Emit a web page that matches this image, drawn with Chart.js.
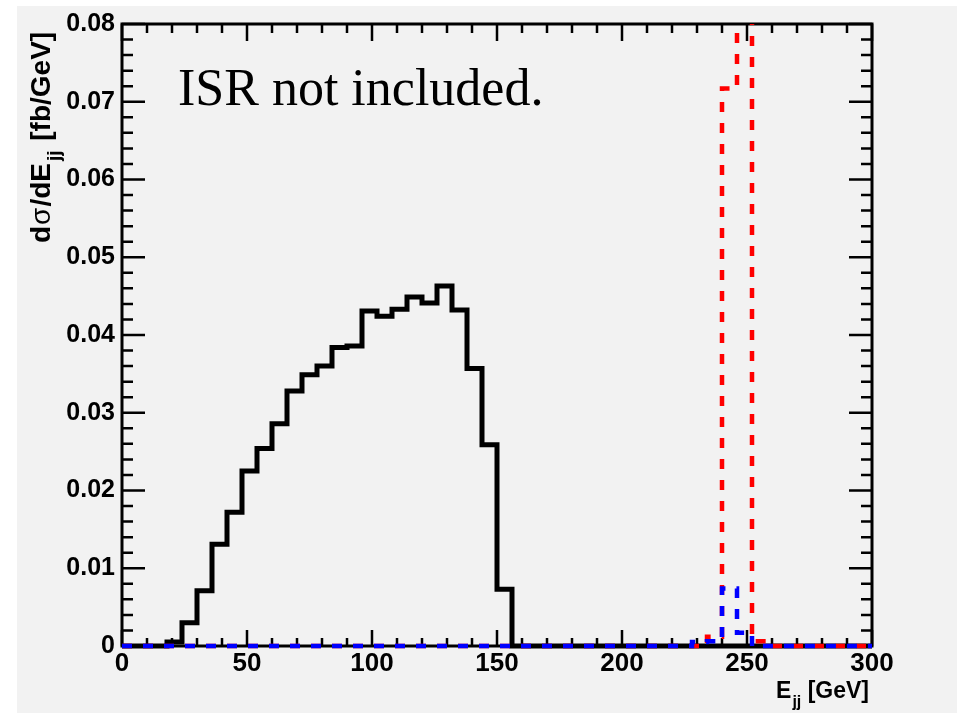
<!DOCTYPE html>
<html>
<head>
<meta charset="utf-8">
<script src="https://cdn.jsdelivr.net/npm/chart.js@4/dist/chart.umd.min.js"></script>
<style>
body { margin: 0; background: #fff; }
canvas { display: block; }
</style>
</head>
<body>
<canvas id="ejj" width="957" height="714"></canvas>
<script>
// lower edges of the 6 GeV bins, upper end of last bin
var binEdges = [0, 6, 12, 18, 24, 30, 36, 42, 48, 54, 60, 66, 72, 78, 84, 90, 96, 102, 108, 114,
                120, 126, 132, 138, 144, 150, 156, 162, 168, 174, 180, 186, 192, 198, 204, 210, 216, 222, 228, 234,
                240, 246, 252, 258, 264, 270, 276, 282, 288, 294];
var xEnd = 300;

// dsigma/dEjj [fb/GeV] per bin
var blackHist = [0, 0, 0, 0.0005, 0.0030, 0.0071, 0.0131, 0.0172, 0.0225, 0.0254,
                 0.0286, 0.0328, 0.0349, 0.0360, 0.0384, 0.0386, 0.0431, 0.0424, 0.0433, 0.0449,
                 0.0441, 0.0463, 0.0432, 0.0357, 0.0259, 0.0073, 0, 0, 0, 0,
                 0, 0, 0, 0, 0, 0, 0, 0, 0, 0,
                 0, 0, 0, 0, 0, 0, 0, 0, 0, 0];
var redHist = [0, 0, 0, 0, 0, 0, 0, 0, 0, 0,
               0, 0, 0, 0, 0, 0, 0, 0, 0, 0,
               0, 0, 0, 0, 0, 0, 0, 0, 0, 0,
               0, 0, 0, 0, 0, 0, 0, 0, 0, 0.0012,
               0.0717, 0.1, 0.0006, 0, 0, 0, 0, 0, 0, 0];
var blueHist = [0, 0, 0, 0, 0, 0, 0, 0, 0, 0,
                0, 0, 0, 0, 0, 0, 0, 0, 0, 0,
                0, 0, 0, 0, 0, 0, 0, 0, 0, 0,
                0, 0, 0, 0, 0, 0, 0, 0, 0.0005, 0.0006,
                0.0074, 0.0017, 0, 0, 0, 0, 0, 0, 0, 0];

var xTickLabels = ['0', '50', '100', '150', '200', '250', '300'];
var yTickLabels = ['0', '0.01', '0.02', '0.03', '0.04', '0.05', '0.06', '0.07', '0.08'];

function toSteps(values) {
  var pts = values.map(function (v, i) { return { x: binEdges[i], y: v }; });
  pts.push({ x: xEnd, y: values[values.length - 1] });
  return pts;
}

var boldFont = '"Liberation Sans", Arial, sans-serif';

var rootFrame = {
  id: 'rootFrame',
  beforeDraw: function (chart) {
    var ctx = chart.ctx;
    ctx.save();
    ctx.fillStyle = '#f2f2f2';
    ctx.fillRect(17, 6, 940, 707);
    ctx.restore();
  },
  beforeDatasetsDraw: function (chart) {
    var ctx = chart.ctx;
    var a = chart.chartArea;
    var xs = chart.scales.x, ys = chart.scales.y;
    ctx.save();
    ctx.strokeStyle = '#000';
    ctx.lineWidth = 2.5;
    ctx.beginPath();
    // x ticks, every 10 GeV, pointing inwards
    for (var v = 0; v <= 300; v += 10) {
      var px = xs.getPixelForValue(v);
      var len = (v % 50 === 0) ? 16 : 8;
      ctx.moveTo(px, a.bottom);
      ctx.lineTo(px, a.bottom - len);
      ctx.moveTo(px, a.top);
      ctx.lineTo(px, a.top + len + 1);
    }
    // y ticks, every 0.002
    for (var k = 0; k <= 40; k++) {
      var py = ys.getPixelForValue(k * 0.002);
      var l2 = (k % 5 === 0) ? 23 : 11;
      ctx.moveTo(a.left, py);
      ctx.lineTo(a.left + l2, py);
      ctx.moveTo(a.right, py);
      ctx.lineTo(a.right - l2, py);
    }
    ctx.stroke();
    ctx.lineWidth = 3;
    ctx.strokeRect(a.left, a.top, a.right - a.left, a.bottom - a.top);
    ctx.restore();
  },
  afterDraw: function (chart) {
    var ctx = chart.ctx;
    var a = chart.chartArea;
    ctx.save();
    ctx.fillStyle = '#000';
    ctx.textBaseline = 'alphabetic';

    // x title: E_jj [GeV], right aligned
    var f = 'bold 23px ' + boldFont;
    var fs = 'bold 16px ' + boldFont;
    ctx.font = f;
    var wE = ctx.measureText('E').width;
    var wRest = ctx.measureText(' [GeV]').width;
    ctx.font = fs;
    var wSub = ctx.measureText('jj').width;
    var x0 = a.right - 4 - wE - wSub - wRest;
    ctx.font = f;
    ctx.fillText('E', x0, 698);
    ctx.font = fs;
    ctx.fillText('jj', x0 + wE + 1, 707);
    ctx.font = f;
    ctx.fillText(' [GeV]', x0 + wE + wSub + 1, 698);

    // y title: dσ/dE_jj [fb/GeV], rotated
    ctx.save();
    ctx.translate(50, 243);
    ctx.rotate(-Math.PI / 2);
    var yf = 'bold 28px ' + boldFont;
    var sig = '28px ' + boldFont;
    var ysub = 'bold 19px ' + boldFont;
    var cx = 0;
    ctx.font = yf; ctx.fillText('d', cx, 0); cx += ctx.measureText('d').width + 1;
    ctx.font = sig; ctx.fillText('σ', cx, 0); cx += ctx.measureText('σ').width + 1;
    ctx.font = yf; ctx.fillText('/dE', cx, 0); cx += ctx.measureText('/dE').width + 2;
    ctx.font = ysub; ctx.fillText('jj', cx, 10); cx += ctx.measureText('jj').width + 2;
    ctx.font = yf; ctx.fillText(' [fb/GeV]', cx, 0);
    ctx.restore();

    // annotation
    ctx.font = '52px "Liberation Serif", "Times New Roman", serif';
    ctx.fillText('ISR not included.', 178, 105);
    ctx.restore();
  }
};

var zeroPad = function (scale) {
  scale.paddingTop = 0; scale.paddingBottom = 0;
  scale.paddingLeft = 0; scale.paddingRight = 0;
};

new Chart(document.getElementById('ejj'), {
  type: 'line',
  data: {
    datasets: [
      {
        label: 'blue',
        data: toSteps(blueHist),
        borderColor: '#0000ff',
        borderWidth: 4.5,
        borderDash: [10, 11],
        stepped: 'before',
        pointRadius: 0,
        fill: false,
        order: 1,
        clip: { left: 4, top: 0, right: 4, bottom: 5 }
      },
      {
        label: 'red',
        data: toSteps(redHist),
        borderColor: '#ff0000',
        borderWidth: 4.5,
        borderDash: [10, 11],
        stepped: 'before',
        pointRadius: 0,
        fill: false,
        order: 2,
        clip: { left: 4, top: 0, right: 4, bottom: 5 }
      },
      {
        label: 'black',
        data: toSteps(blackHist),
        borderColor: '#000000',
        borderWidth: 5,
        stepped: 'before',
        pointRadius: 0,
        fill: false,
        order: 3,
        clip: { left: 4, top: 0, right: 4, bottom: 5 }
      }
    ]
  },
  options: {
    responsive: false,
    animation: false,
    layout: { padding: { left: 0, right: 85, top: 24, bottom: 0 } },
    plugins: {
      legend: { display: false },
      tooltip: { enabled: false }
    },
    scales: {
      x: {
        type: 'linear',
        min: 0,
        max: 300,
        grid: { display: false, drawTicks: false },
        border: { display: false },
        ticks: {
          stepSize: 50,
          padding: 2,
          color: '#000',
          maxRotation: 0,
          font: { family: boldFont, size: 26, weight: 'bold' },
          callback: function (value, index) { return xTickLabels[index]; }
        },
        afterFit: function (scale) { scale.height = 68; zeroPad(scale); }
      },
      y: {
        type: 'linear',
        min: 0,
        max: 0.08,
        grid: { display: false, drawTicks: false },
        border: { display: false },
        ticks: {
          stepSize: 0.01,
          padding: 7,
          color: '#000',
          font: { family: boldFont, size: 25, weight: 'bold' },
          callback: function (value, index) { return yTickLabels[index]; }
        },
        afterFit: function (scale) { scale.width = 122; zeroPad(scale); }
      }
    }
  },
  plugins: [rootFrame]
});
</script>
</body>
</html>
